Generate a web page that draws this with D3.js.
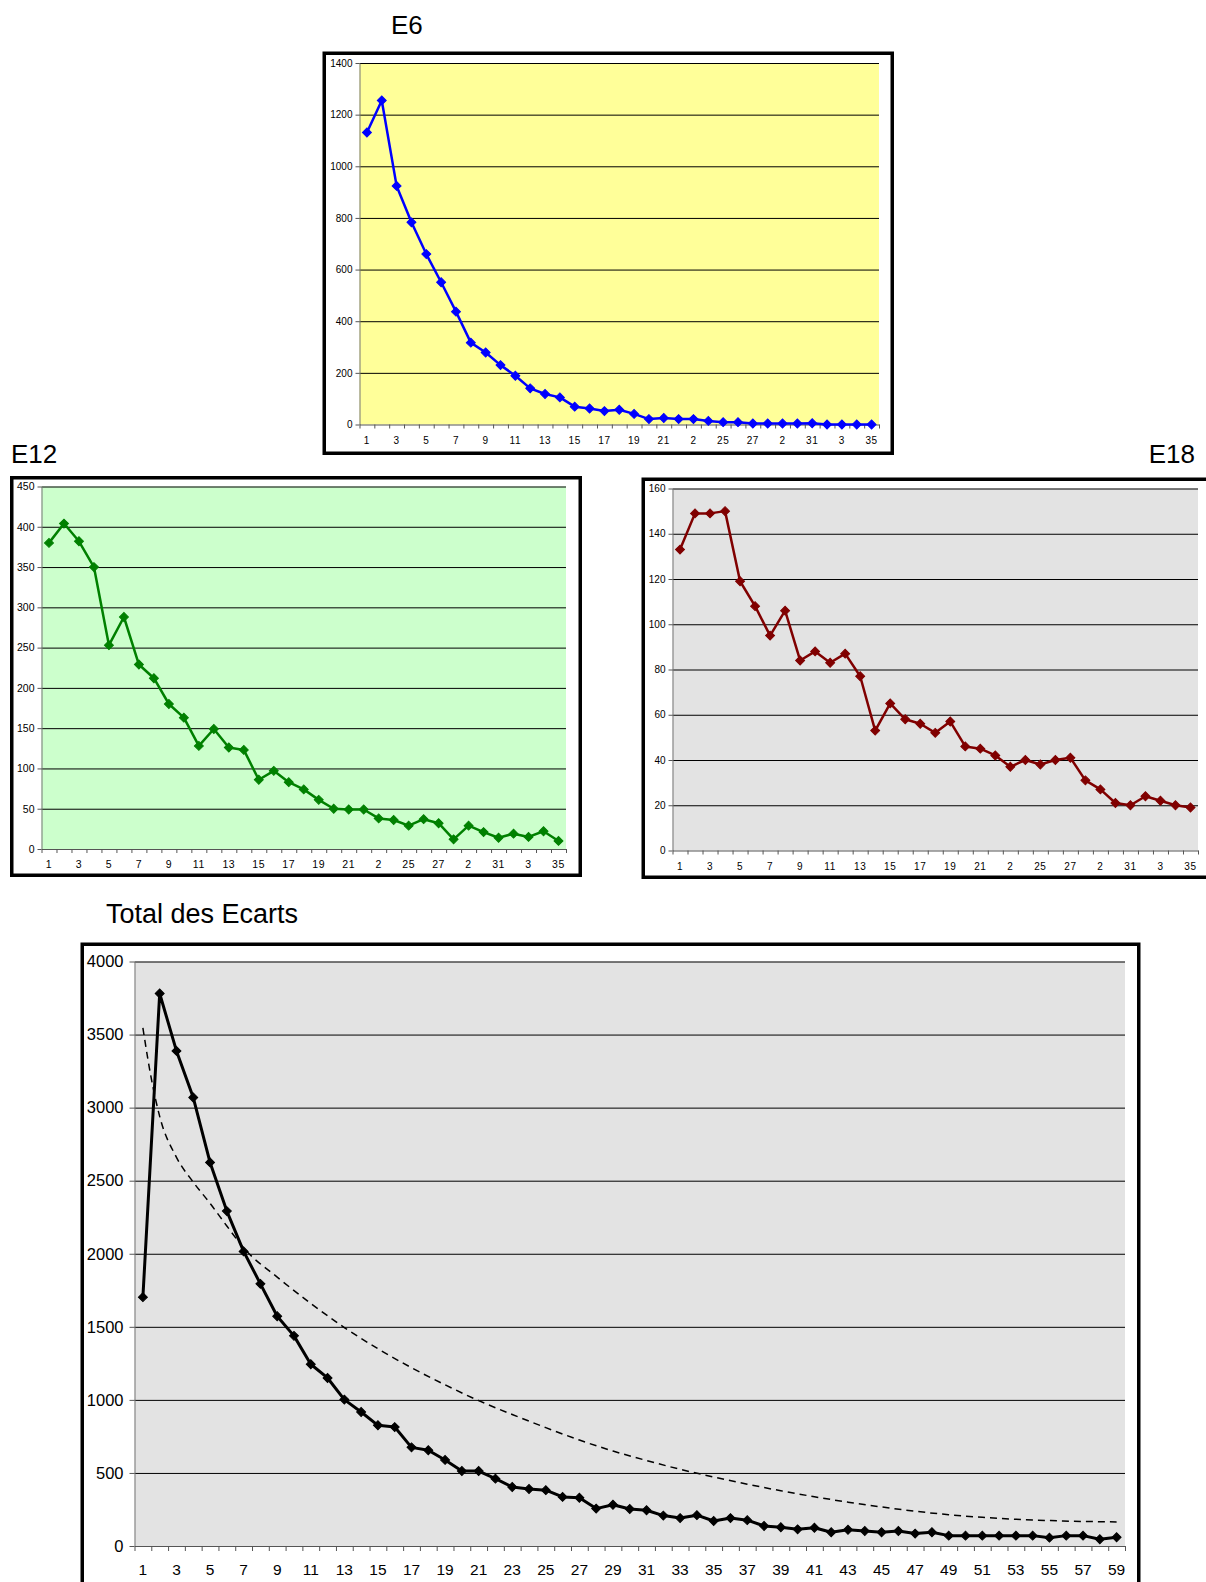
<!DOCTYPE html>
<html>
<head>
<meta charset="utf-8">
<script src="https://cdn.jsdelivr.net/npm/d3@7"></script>
<style>
  body { margin: 0; background: #fff; }
  svg { display: block; font-family: "Liberation Sans", Arial, Helvetica, sans-serif; }
</style>
</head>
<body>
<svg id="chart" width="1206" height="1582"></svg>
<script>
// ---- Data: number of gaps (écarts) per category ----
const e6Values = [1131, 1255, 924, 783, 660, 551, 437, 317, 279, 230, 189, 140, 118, 105, 69, 62, 52, 57, 41, 21,
                  25, 21, 21, 14, 9, 9, 4, 4, 4, 4, 5, 0, 0, 0, 0];
const e12Values = [380, 404, 382, 350, 253, 288, 229, 212, 180, 163, 128, 149, 126, 123, 86, 97, 83, 74, 61, 50,
                   49, 49, 38, 36, 29, 37, 32, 12, 29, 21, 14, 19, 15, 22, 10];
const e18Values = [133, 149, 149, 150, 119, 108, 95, 106, 84, 88, 83, 87, 77, 53, 65, 58, 56, 52, 57, 46,
                   45, 42, 37, 40, 38, 40, 41, 31, 27, 21, 20, 24, 22, 20, 19];
const totalValues = [1703, 3781, 3388, 3069, 2625, 2292, 2016, 1794, 1572, 1438, 1244, 1150, 1002, 917, 826, 814,
                     675, 655, 589, 513, 513, 461, 404, 390, 382, 336, 330, 256, 282, 253, 245, 208, 191, 211,
                     171, 191, 177, 137, 128, 114, 125, 94, 111, 103, 94, 103, 85, 94, 71, 71, 71, 71, 71, 71,
                     57, 71, 71, 46, 60];

// Trend curve of the total (dashed)
const trendCats = [1, 1.5, 2, 3, 4, 5, 6, 7, 9, 11, 13, 15, 17, 19, 21, 23, 25, 27, 29, 31, 33, 35, 37, 39, 41, 43,
                   45, 47, 49, 51, 53, 55, 57, 59];
const trendValues = [3545, 3200, 2940, 2660, 2490, 2345, 2190, 2040, 1840, 1660, 1495, 1350, 1220, 1103, 995, 900,
                     810, 725, 650, 585, 525, 472, 423, 378, 337, 300, 267, 238, 214, 196, 183, 174, 168, 165];

// Category labels shown under the small charts (one every other category)
const smallTickLabels = ["1", "3", "5", "7", "9", "11", "13", "15", "17", "19", "21", "2", "25", "27", "2", "31", "3", "35"];
const totalTickLabels = ["1", "3", "5", "7", "9", "11", "13", "15", "17", "19", "21", "23", "25", "27", "29",
                         "31", "33", "35", "37", "39", "41", "43", "45", "47", "49", "51", "53", "55", "57", "59"];

const e6YTicks = [0, 200, 400, 600, 800, 1000, 1200, 1400];
const e12YTicks = [0, 50, 100, 150, 200, 250, 300, 350, 400, 450];
const e18YTicks = [0, 20, 40, 60, 80, 100, 120, 140, 160];
const totalYTicks = [0, 500, 1000, 1500, 2000, 2500, 3000, 3500, 4000];

const svg = d3.select("#chart");

function drawPanel(cfg) {
  const g = svg.append("g");
  const n = cfg.values.length;
  const cats = d3.range(1, n + 1);
  const p = cfg.plot;

  // white chart area with thick black border
  const fw = cfg.frameWidth;
  g.append("rect")
    .attr("x", cfg.frame.x0 + fw / 2).attr("y", cfg.frame.y0 + fw / 2)
    .attr("width", cfg.frame.x1 - cfg.frame.x0 - fw).attr("height", cfg.frame.y1 - cfg.frame.y0 - fw)
    .attr("fill", "#fff");

  const x = d3.scaleBand().domain(cats).range([p.left, p.right]).padding(0);
  const xEdge = d3.scaleLinear().domain([0, n]).range([p.left, p.right]);
  const y = d3.scaleLinear().domain([0, cfg.yMax]).range([p.bottom, p.top]);
  const cx = c => x(c) + x.bandwidth() / 2;
  const cxLin = c => xEdge(c - 0.5);

  // plot background
  g.append("rect")
    .attr("x", p.left).attr("y", p.top)
    .attr("width", p.right - p.left).attr("height", p.bottom - p.top)
    .attr("fill", cfg.bg);

  // horizontal gridlines
  const grid = g.append("g").attr("transform", `translate(${p.left},0)`)
    .call(d3.axisLeft(y).tickValues(cfg.yTicks.filter(v => v > 0))
      .tickSize(-(p.right - p.left)).tickFormat(""));
  grid.select(".domain").remove();
  grid.selectAll("line").attr("stroke", "#000").attr("stroke-width", 1);

  // y axis
  const yAx = g.append("g").attr("transform", `translate(${p.left},0)`)
    .call(d3.axisLeft(y).tickValues(cfg.yTicks).tickSize(cfg.tickLen).tickSizeOuter(0)
      .tickPadding(cfg.yPad).tickFormat(d3.format("d")));
  yAx.select(".domain").attr("stroke", "#777");
  yAx.selectAll("line").attr("stroke", "#555");
  yAx.selectAll("text").attr("font-size", cfg.yFont || cfg.tickFont).attr("fill", "#000")
    .attr("font-family", "'Liberation Sans', Arial, sans-serif");

  // x axis line + tick marks at category boundaries
  const xAx = g.append("g").attr("transform", `translate(0,${p.bottom})`)
    .call(d3.axisBottom(xEdge).tickValues(d3.range(0, n + 1)).tickSize(cfg.tickLen).tickSizeOuter(0).tickFormat(""));
  xAx.select(".domain").attr("stroke", "#555");
  xAx.selectAll("line").attr("stroke", "#555");

  // x labels centred on odd categories
  const labelCats = cats.filter(c => c % 2 === 1);
  const xLab = g.append("g").attr("transform", `translate(0,${p.bottom})`)
    .call(d3.axisBottom(x).tickValues(labelCats).tickSize(0).tickPadding(cfg.xPad)
      .tickFormat((d, i) => cfg.tickLabels[i]));
  xLab.select(".domain").remove();
  xLab.selectAll("text").attr("font-size", cfg.tickFont).attr("fill", "#000")
    .attr("letter-spacing", cfg.xLetter || 0)
    .attr("font-family", "'Liberation Sans', Arial, sans-serif");

  // optional dashed trend curve (positions may fall between categories)
  if (cfg.trend) {
    g.append("path")
      .datum(cfg.trend.cats.map((c, i) => [c, cfg.trend.values[i]]))
      .attr("fill", "none").attr("stroke", "#000").attr("stroke-width", 1.5)
      .attr("stroke-dasharray", "7,5")
      .attr("d", d3.line().x(d => cxLin(d[0])).y(d => y(d[1])).curve(d3.curveMonotoneX));
  }

  // series line
  g.append("path")
    .datum(cfg.values)
    .attr("fill", "none").attr("stroke", cfg.color).attr("stroke-width", cfg.lineWidth)
    .attr("stroke-linejoin", "round")
    .attr("d", d3.line().x((d, i) => cx(i + 1)).y(d => y(d)));

  // diamond markers
  const diamond = d3.symbol().type(d3.symbolSquare).size(cfg.markerSize);
  g.append("g").selectAll("path")
    .data(cfg.values)
    .join("path")
    .attr("d", diamond)
    .attr("transform", (d, i) => `translate(${cx(i + 1)},${y(d)}) rotate(45)`)
    .attr("fill", cfg.color).attr("stroke", cfg.color).attr("stroke-width", 1);

  // border on top so it hides anything overflowing the edge
  g.append("rect")
    .attr("x", cfg.frame.x0 + fw / 2).attr("y", cfg.frame.y0 + fw / 2)
    .attr("width", cfg.frame.x1 - cfg.frame.x0 - fw).attr("height", cfg.frame.y1 - cfg.frame.y0 - fw)
    .attr("fill", "none").attr("stroke", "#000").attr("stroke-width", fw);

  // title
  svg.append("text")
    .attr("x", cfg.title.x).attr("y", cfg.title.y)
    .attr("text-anchor", cfg.title.anchor || "start")
    .attr("font-size", cfg.title.size).attr("fill", "#000")
    .text(cfg.title.text);
}

const smallCommon = { frameWidth: 3.5, tickLen: 4, yPad: 3, xPad: 12, tickFont: 10, xLetter: 0.6,
                      lineWidth: 2.5, markerSize: 40, tickLabels: smallTickLabels };

drawPanel(Object.assign({}, smallCommon, {
  values: e6Values, yMax: 1400, yTicks: e6YTicks, color: "#0000FF", bg: "#FFFF99",
  frame: { x0: 322.5, y0: 51.5, x1: 894, y1: 455 },
  plot: { left: 359.5, top: 63, right: 879, bottom: 424.5 },
  title: { text: "E6", x: 391, y: 34, size: 26 }
}));

drawPanel(Object.assign({}, smallCommon, {
  values: e12Values, yMax: 450, yTicks: e12YTicks, color: "#008000", bg: "#CCFFCC",
  tickFont: 10.5,
  frame: { x0: 10, y0: 476, x1: 582, y1: 877 },
  plot: { left: 41.5, top: 486.5, right: 566, bottom: 849 },
  title: { text: "E12", x: 11, y: 463, size: 26 }
}));

drawPanel(Object.assign({}, smallCommon, {
  values: e18Values, yMax: 160, yTicks: e18YTicks, color: "#800000", bg: "#E3E3E3",
  frame: { x0: 641.5, y0: 477.5, x1: 1216, y1: 879 },
  plot: { left: 672.5, top: 488.5, right: 1198, bottom: 850.5 },
  title: { text: "E18", x: 1195, y: 463, size: 26, anchor: "end" }
}));

drawPanel({
  values: totalValues, yMax: 4000, yTicks: totalYTicks, color: "#000", bg: "#E3E3E3",
  frameWidth: 3.5, tickLen: 5, yPad: 6, xPad: 18, tickFont: 15.5, yFont: 16.5, lineWidth: 3, markerSize: 40,
  tickLabels: totalTickLabels,
  trend: { cats: trendCats, values: trendValues },
  frame: { x0: 80.5, y0: 942.5, x1: 1140.5, y1: 1600 },
  plot: { left: 134.5, top: 961.5, right: 1125, bottom: 1546 },
  title: { text: "Total des Ecarts", x: 106, y: 923, size: 27 }
});
</script>
</body>
</html>
